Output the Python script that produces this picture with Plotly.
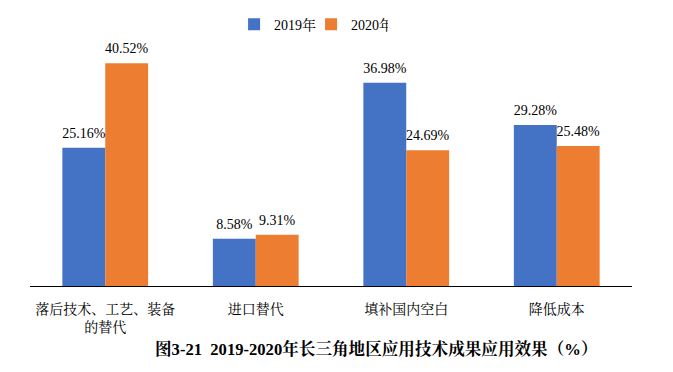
import plotly.graph_objects as go

categories = ["落后技术、工艺、装备<br>的替代", "进口替代", "填补国内空白", "降低成本"]
values_2019 = [25.16, 8.58, 36.98, 29.28]
values_2020 = [40.52, 9.31, 24.69, 25.48]
series_names = ["2019年", "2020年"]
title_text = "图3-21  2019-2020年长三角地区应用技术成果应用效果（%）"

serif = "Liberation Serif, Noto Serif CJK SC, Noto Sans CJK SC, serif"
colors = ["#4472C4", "#ED7D31"]
GAP = 0.43

fig = go.Figure()
for name, vals, col in zip(series_names, [values_2019, values_2020], colors):
    fig.add_trace(go.Bar(
        x=categories, y=vals, name=name, marker_color=col, marker_line_width=0,
    ))
for name, vals in zip(series_names, [values_2019, values_2020]):
    fig.add_trace(go.Scatter(
        x=categories, y=vals, mode="markers+text", showlegend=False, hoverinfo="skip",
        marker=dict(size=9, opacity=0), text=[f"{v:.2f}%" for v in vals],
        textposition="top center", cliponaxis=False,
        textfont=dict(family=serif, size=14, color="#000000"),
    ))

fig.update_layout(
    width=673, height=372, barmode="group", bargap=GAP, bargroupgap=0,
    scattermode="group", scattergap=GAP,
    margin=dict(l=22, r=49, t=0, b=94, autoexpand=False),
    plot_bgcolor="white", paper_bgcolor="white",
    font=dict(family=serif, size=14, color="#000000"),
    legend=dict(orientation="h", x=0.339, xanchor="left", y=0.94, yanchor="middle",
                font=dict(family=serif, size=14), traceorder="normal",
                itemwidth=30, entrywidth=32, entrywidthmode="pixels",
                bgcolor="rgba(0,0,0,0)"),
    xaxis=dict(showline=True, linecolor="#000000", linewidth=1, ticks="",
               automargin=False, ticklabelstandoff=10,
               tickfont=dict(family=serif, size=14)),
    yaxis=dict(range=[0, 45], visible=False, showgrid=False, domain=[0, 0.8896]),
    annotations=[dict(text="<b>" + title_text + "</b>", xref="paper", yref="paper",
                      x=0.575, y=-0.2266, xanchor="center", yanchor="middle", showarrow=False,
                      font=dict(family=serif, size=16.6, color="#000000"))],
)
fig.write_html("out.html")
